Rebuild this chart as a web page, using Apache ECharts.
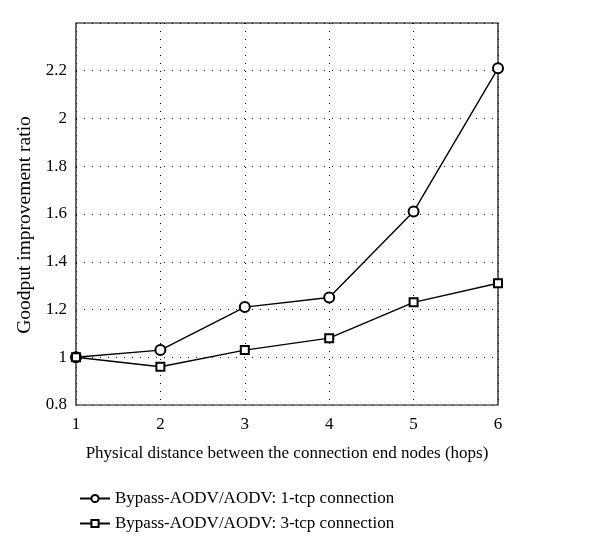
<!DOCTYPE html>
<html><head><meta charset="utf-8">
<script src="https://cdn.jsdelivr.net/npm/echarts@6/dist/echarts.min.js"></script>
<style>html,body{margin:0;padding:0;background:#fff}#c{width:600px;height:555px}</style>
</head><body><div id="c"></div>
<script>
const categories = [1, 2, 3, 4, 5, 6];
const series1Name = 'Bypass-AODV/AODV: 1-tcp connection';
const series1 = [1.0, 1.03, 1.21, 1.25, 1.61, 2.21];
const series2Name = 'Bypass-AODV/AODV: 3-tcp connection';
const series2 = [1.0, 0.96, 1.03, 1.08, 1.23, 1.31];
const xTitle = 'Physical distance between the connection end nodes (hops)';
const yTitle = 'Goodput improvement ratio';

const font = 'Liberation Serif';
const chart = echarts.init(document.getElementById('c'));
chart.setOption({
  animation: false,
  grid: {left: 76, right: 102, top: 23, bottom: 150, show: true, borderColor: '#000', borderWidth: 1.2, backgroundColor: 'transparent'},
  xAxis: {
    type: 'value', min: 1, max: 6, interval: 1,
    name: xTitle, nameLocation: 'middle', nameGap: 40,
    nameTextStyle: {fontFamily: font, fontSize: 17, color: '#000'},
    axisLine: {show: false}, axisTick: {show: false},
    axisLabel: {fontFamily: font, fontSize: 17, color: '#000', margin: 11},
    splitLine: {show: true, lineStyle: {type: [1, 7], color: '#000', width: 1}}
  },
  yAxis: {
    type: 'value', min: 0.8, max: 2.4, interval: 0.2,
    name: yTitle, nameLocation: 'middle', nameGap: 40,
    nameTextStyle: {fontFamily: font, fontSize: 19.5, color: '#000', padding: [0, 0, 0, -22]},
    axisLine: {show: false}, axisTick: {show: false},
    axisLabel: {fontFamily: font, fontSize: 17, color: '#000', margin: 9, showMaxLabel: false},
    splitLine: {show: true, lineStyle: {type: [1, 7], color: '#000', width: 1}}
  },
  legend: {
    orient: 'vertical', left: 74, top: 485, itemGap: 8, itemWidth: 30, itemHeight: 9,
    textStyle: {fontFamily: font, fontSize: 17, color: '#000'},
    data: [series1Name, series2Name]
  },
  series: [
    {name: series1Name, type: 'line', data: categories.map((c, i) => [c, series1[i]]),
     symbol: 'emptyCircle', symbolSize: 10,
     lineStyle: {color: '#000', width: 1.4}, itemStyle: {color: '#000', borderColor: '#000', borderWidth: 1.3}},
    {name: series2Name, type: 'line', data: categories.map((c, i) => [c, series2[i]]),
     symbol: 'emptyRect', symbolSize: 8,
     lineStyle: {color: '#000', width: 1.4}, itemStyle: {color: '#000', borderColor: '#000', borderWidth: 1.3}}
  ]
});
</script></body></html>
